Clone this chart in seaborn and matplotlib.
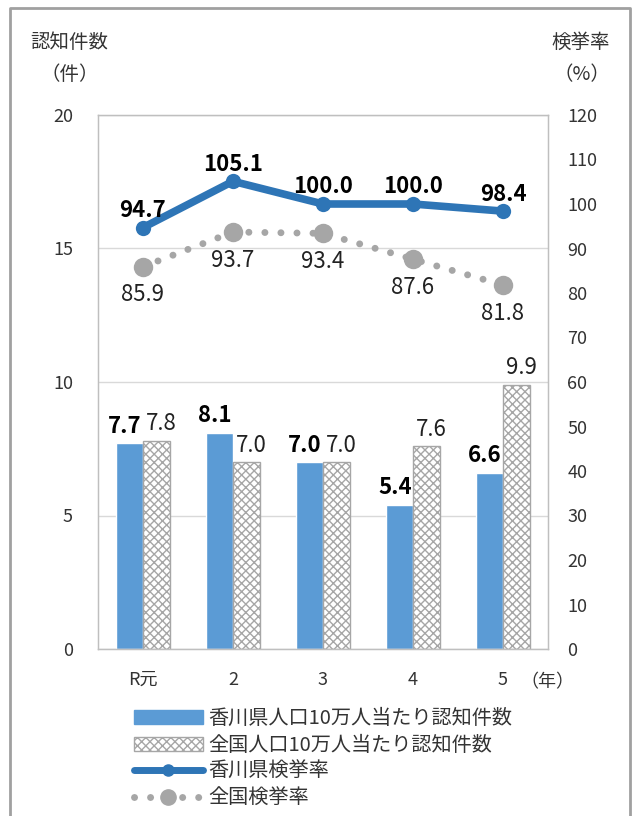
import numpy as np
import pandas as pd
import matplotlib.pyplot as plt
import matplotlib.patches as mpatches
import matplotlib.lines as mlines
import seaborn as sns

sns.set_style("white")
plt.rcParams['font.family'] = ['Noto Sans CJK JP', 'DejaVu Sans']
plt.rcParams['hatch.linewidth'] = 1.0

# data
years = ["R元", "2", "3", "4", "5"]
kagawa_cases = [7.7, 8.1, 7.0, 5.4, 6.6]
national_cases = [7.8, 7.0, 7.0, 7.6, 9.9]
kagawa_rate = [94.7, 105.1, 100.0, 100.0, 98.4]
national_rate = [85.9, 93.7, 93.4, 87.6, 81.8]

lbl_kc = "香川県人口10万人当たり認知件数"
lbl_nc = "全国人口10万人当たり認知件数"
lbl_kr = "香川県検挙率"
lbl_nr = "全国検挙率"

blue_bar = "#5B9BD5"
blue_line = "#2E75B6"
gray = "#A6A6A6"
txt = "#333333"

df = pd.DataFrame({
    "year": years * 2,
    "count": kagawa_cases + national_cases,
    "series": [lbl_kc] * 5 + [lbl_nc] * 5,
})

fig = plt.figure(figsize=(6.38, 8.16), dpi=100)
ax = fig.add_axes([98/638, 1 - 649/816, 450/638, 534/816])

sns.barplot(data=df, x="year", y="count", hue="series", order=years,
            hue_order=[lbl_kc, lbl_nc], palette=[blue_bar, "white"],
            width=0.6, gap=0, legend=False, ax=ax, saturation=1)

# hatched national bars
for p in ax.patches[5:10]:
    p.set_hatch("xxxx")
    p.set_edgecolor(gray)
    p.set_linewidth(1.0)

ax.set_ylim(0, 20)
ax.set_xlim(-0.5, 4.5)
ax.set_yticks([0, 5, 10, 15, 20])
ax.yaxis.grid(True, color="#D9D9D9", linewidth=1)
ax.set_axisbelow(True)
ax.set_xlabel("")
ax.set_ylabel("")
ax.tick_params(axis="y", length=0, labelsize=13, colors=txt, pad=18)
ax.tick_params(axis="x", length=0, labelsize=13, colors=txt, pad=16)
for s in ax.spines.values():
    s.set_color("#BFBFBF")
    s.set_linewidth(1)

# bar labels
for i, v in enumerate(kagawa_cases):
    ax.annotate(f"{v:.1f}", (i - 0.2, v), xytext=(0, 4), textcoords="offset points",
                ha="center", va="bottom", fontsize=16, fontweight="bold", color="black")
for i, v in enumerate(national_cases):
    ax.annotate(f"{v:.1f}", (i + 0.2, v), xytext=(0, 4), textcoords="offset points",
                ha="center", va="bottom", fontsize=16, color="#222222")

# rate lines on right axis
ax2 = ax.twinx()
xs = np.arange(len(years))
sns.lineplot(x=xs, y=national_rate, ax=ax2, color=gray, linewidth=5,
             linestyle=(0, (0.01, 2.3)), dash_capstyle="round",
             marker="o", markersize=14, markeredgewidth=0)
sns.lineplot(x=xs, y=kagawa_rate, ax=ax2, color=blue_line, linewidth=5.5,
             marker="o", markersize=11, markeredgewidth=0)
ax2.set_ylim(0, 120)
ax2.set_xlim(-0.5, 4.5)
ax2.set_yticks(range(0, 121, 10))
ax2.tick_params(axis="y", length=0, labelsize=13, colors=txt, pad=14)
for s in ax2.spines.values():
    s.set_color("#BFBFBF")

for i, v in enumerate(kagawa_rate):
    ax2.annotate(f"{v:.1f}", (i, v), xytext=(0, 4), textcoords="offset points",
                 ha="center", va="bottom", fontsize=16, fontweight="bold", color="black")
for i, v in enumerate(national_rate):
    ax2.annotate(f"{v:.1f}", (i, v), xytext=(0, -12), textcoords="offset points",
                 ha="center", va="top", fontsize=16, color="#222222")

# axis titles
fig.text(30/638, 1 - 42/816, "認知件数", ha="left", va="center", fontsize=14, color=txt)
fig.text(70/638, 1 - 75/816, "（件）", ha="center", va="center", fontsize=14, color=txt)
fig.text(610/638, 1 - 42/816, "検挙率", ha="right", va="center", fontsize=14, color=txt)
fig.text(582/638, 1 - 75/816, "（%）", ha="center", va="center", fontsize=14, color=txt)
fig.text(547/638, 1 - 682/816, "（年）", ha="center", va="center", fontsize=13, color=txt)

# legend
h1 = mpatches.Patch(facecolor=blue_bar, edgecolor=blue_bar)
h2 = mpatches.Patch(facecolor="white", edgecolor=gray, hatch="xxxx")
h3 = mlines.Line2D([], [], color=blue_line, linewidth=5, marker="o", markersize=8,
                   solid_capstyle="round")
h4 = mlines.Line2D([], [], color=gray, linewidth=5, linestyle=(0, (0.01, 2.3)),
                   dash_capstyle="round", marker="o", markersize=11)
leg = fig.legend([h1, h2, h3, h4], [lbl_kc, lbl_nc, lbl_kr, lbl_nr],
                 loc="upper left", bbox_to_anchor=(130/638, 1 - 704/816),
                 frameon=False, fontsize=14.5, handlelength=3.4, handleheight=0.7,
                 labelspacing=0.28, handletextpad=0.3, markerscale=1,
                 borderaxespad=0, borderpad=0.2)
for t in leg.get_texts():
    t.set_color(txt)

# outer border
fig.add_artist(mlines.Line2D([10/638, 10/638, 630/638, 630/638],
                             [0, 1 - 8/816, 1 - 8/816, 0],
                             transform=fig.transFigure, color="#A0A0A0", linewidth=2))

fig.savefig("out.png", dpi=100)
